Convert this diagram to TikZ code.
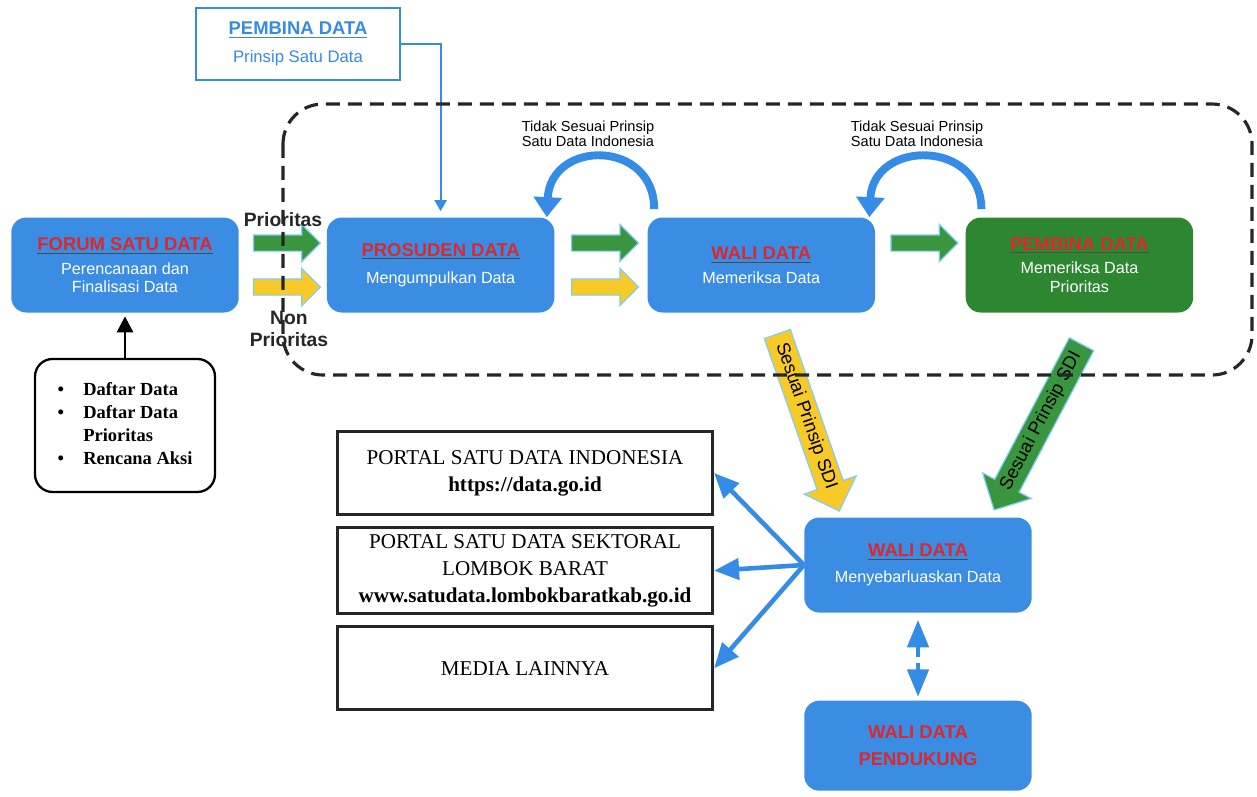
\documentclass[tikz,border=0pt]{standalone}
\usepackage{fontspec}
\setmainfont{Liberation Serif}
\setsansfont{Liberation Sans}
\usepackage{xcolor}
\usepackage{tikz}
\usetikzlibrary{
    arrows.meta,
    positioning,
    shapes.arrows,
    calc,
}

\definecolor{boxblue}{RGB}{58,141,226}
\definecolor{boxgreen}{RGB}{44,135,48}
\definecolor{arrowgreen}{RGB}{58,150,62}
\definecolor{arrowyellow}{RGB}{247,202,40}
\definecolor{titlered}{RGB}{218,40,46}
\definecolor{linkblue}{RGB}{52,140,230}
\definecolor{rimcyan}{RGB}{130,205,245}

\newcommand{\roletitle}[1]{{\color{black!70}\underline{\textcolor{titlered}{\bfseries\fontsize{10.5}{12}\selectfont #1}}}}

\begin{document}
\begin{tikzpicture}[
        x=0.02cm, y=-0.02cm,
        node distance=1.75cm,
        rolebox/.style={
            rectangle, rounded corners=0.3cm, fill=#1,
            minimum width=4.55cm, minimum height=1.9cm,
            align=center, text=white,
            font=\sffamily\fontsize{9.2}{10.5}\selectfont
        },
        rolebox/.default=boxblue,
        portalbox/.style={
            rectangle, draw=black!85, line width=1.8pt, fill=white,
            minimum width=7.5cm, minimum height=1.66cm,
            align=center, font=\fontsize{12}{15.5}\selectfont
        },
        listbox/.style={
            rectangle, rounded corners=0.35cm, draw=black, line width=1.3pt,
            fill=white, minimum width=3.6cm, minimum height=2.66cm,
            font=\bfseries\fontsize{10.5}{13}\selectfont
        },
        blockarrow/.style={
            single arrow, draw=rimcyan, line width=0.7pt, fill=#1,
            inner xsep=0pt, inner ysep=0.15cm, minimum height=1.34cm,
            minimum width=0.72cm, single arrow head extend=0.21cm
        },
        slantarrow/.style={
            single arrow, draw=rimcyan, line width=0.7pt, fill=#1,
            inner sep=2.5pt, minimum height=3.75cm, minimum width=1.1cm,
            single arrow head extend=0.27cm,
            font=\sffamily\fontsize{10.5}{12}\selectfont
        },
        loopback/.style={draw=linkblue, line width=4.5pt,
            -{Triangle[length=0.4cm,width=0.55cm]}},
        spread/.style={draw=linkblue, line width=2.6pt,
            -{Triangle[length=0.5cm,width=0.42cm]}},
        flowlabel/.style={font=\sffamily\bfseries\fontsize{11}{13}\selectfont,
            text=black!85, align=center, inner sep=1pt},
        notelabel/.style={font=\sffamily\fontsize{8.3}{8.8}\selectfont,
            align=center, inner sep=1pt},
    ]
    \useasboundingbox (0,0) rectangle (1257,796);

    % --- main row ---
    \node[rolebox] (forum) at (125,265)
        {\roletitle{FORUM SATU DATA}\\[3pt]Perencanaan dan\\Finalisasi Data};
    \node[rolebox, right=1.75cm of forum] (prosuden)
        {\roletitle{PROSUDEN DATA}\\[5pt]Mengumpulkan Data};
    \node[rolebox, right=1.85cm of prosuden] (wali)
        {\roletitle{WALI DATA}\\[3pt]Memeriksa Data};
    \node[rolebox=boxgreen, right=1.8cm of wali] (pembina)
        {\roletitle{PEMBINA DATA}\\[3pt]Memeriksa Data\\Prioritas};

    % --- pembina (top) ---
    \node[draw=linkblue, line width=1.2pt, fill=white, minimum width=4.08cm,
          minimum height=1.44cm, align=center, text=linkblue,
          font=\sffamily\fontsize{9.5}{11}\selectfont] (pembinatop) at (298,44)
        {\underline{\bfseries\fontsize{10.5}{12}\selectfont PEMBINA DATA}\\[5pt]Prinsip Satu Data};

    % --- input list ---
    \node[listbox, below=0.9cm of forum] (daftar) {%
        \begin{tabular}{@{}l@{\hspace{11pt}}l@{}}
        \textbullet & Daftar Data\\
        \textbullet & Daftar Data\\
                    & Prioritas\\
        \textbullet & Rencana Aksi
        \end{tabular}};

    % --- dissemination ---
    \node[rolebox] (sebar) at (918,565)
        {\roletitle{WALI DATA}\\[4pt]Menyebarluaskan Data};
    \node[rolebox, below=1.75cm of sebar, minimum height=1.8cm,
          text=titlered, font=\sffamily\bfseries\fontsize{10.5}{15}\selectfont] (pendukung)
        {WALI DATA\\PENDUKUNG};

    \node[portalbox] (portal1) at (525,473)
        {PORTAL SATU DATA INDONESIA\\\textbf{https://data.go.id}};
    \node[portalbox, below=0.2cm of portal1, minimum height=1.72cm] (portal2)
        {PORTAL SATU DATA SEKTORAL\\LOMBOK BARAT\\\textbf{www.satudata.lombokbaratkab.go.id}};
    \node[portalbox, below=0.2cm of portal2] (portal3) {MEDIA LAINNYA};

    % --- block arrows ---
    \node[blockarrow=arrowgreen] (prio1) at ($(forum.east)!0.5!(prosuden.west)+(0,-22)$) {};
    \node[blockarrow=arrowyellow] (non1) at ($(forum.east)!0.5!(prosuden.west)+(0,22)$) {};
    \node[blockarrow=arrowgreen] (prio2) at ($(prosuden.east)!0.5!(wali.west)+(0,-22)$) {};
    \node[blockarrow=arrowyellow] (non2) at ($(prosuden.east)!0.5!(wali.west)+(0,22)$) {};
    \node[blockarrow=arrowgreen] (prio3) at ($(wali.east)!0.5!(pembina.west)+(0,-22)$) {};

    \node[slantarrow=arrowyellow, rotate=-70.7] (sesuai1) at (806,416) {Sesuai Prinsip SDI};
    \node[slantarrow=arrowgreen, rotate=62.2, shape border rotate=180] (sesuai2) at (1041,421)
        {Sesuai Prinsip SDI};

    % --- labels ---
    \node[flowlabel] (lblprio) at (283,220) {Prioritas};
    \node[flowlabel] (lblnon) at (289,329) {Non\\Prioritas};
    \node[notelabel] (tidak1) at (588,134) {Tidak Sesuai Prinsip\\Satu Data Indonesia};
    \node[notelabel] (tidak2) at (917,134) {Tidak Sesuai Prinsip\\Satu Data Indonesia};

    % --- connectors ---
    \draw[draw=linkblue, line width=1.1pt, shorten >=0.12cm,
          -{Triangle[length=0.22cm,width=0.24cm]}] (pembinatop.east) -| (prosuden.north);
    \draw[black, line width=1.7pt, shorten >=2pt,
          -{Triangle[length=0.32cm,width=0.32cm]}] (daftar) -- (forum);

    \draw[loopback] ($(wali.north west)+(7,-8)$) .. controls +(0,-70) and +(4,-78)
        .. ($(prosuden.north east)+(-8,0)$);
    \draw[loopback] ($(pembina.north west)+(16,-8)$) .. controls +(0,-70) and +(4,-78)
        .. ($(wali.north east)+(-6,0)$);

    \draw[spread] (sebar.west) -- (portal1.east);
    \draw[spread] (sebar.west) -- (portal2.east);
    \draw[spread] (sebar.west) -- (portal3.east);

    \draw[draw=linkblue, line width=2.6pt, dash pattern=on 0.22cm off 0.12cm,
          shorten <=4pt, shorten >=2pt,
          {Triangle[length=0.55cm,width=0.42cm]}-{Triangle[length=0.55cm,width=0.42cm]}]
        (sebar.south) -- (pendukung.north);

    % --- process frame ---
    \draw[black!85, line width=1.8pt, dash pattern=on 0.28cm off 0.16cm,
          rounded corners=0.8cm] (283,104) rectangle (1252,375);

\end{tikzpicture}
\end{document}
